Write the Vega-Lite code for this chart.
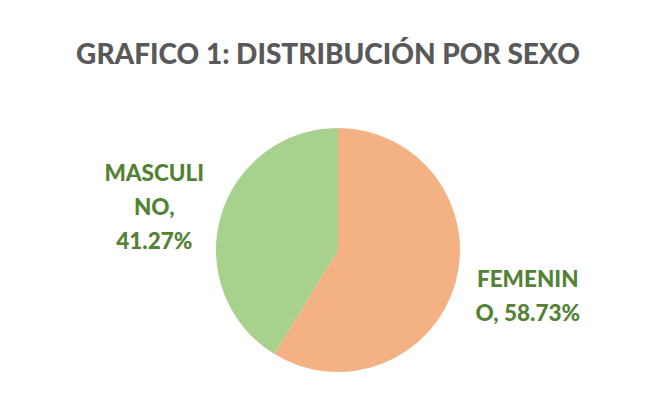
{
  "$schema": "https://vega.github.io/schema/vega-lite/v6.json",
  "autosize": "none",
  "width": 600,
  "height": 250,
  "padding": {"left": 38, "top": 125, "right": 16, "bottom": 42},
  "background": "white",
  "title": {
    "text": "GRAFICO 1: DISTRIBUCIÓN  POR SEXO",
    "font": "Lato",
    "fontSize": 28,
    "fontWeight": 900,
    "color": "#595959",
    "anchor": "middle",
    "offset": 55,
    "dx": -10
  },
  "data": {
    "values": [
      {"sexo": "FEMENINO", "pct": 58.73, "orden": 1, "etiqueta": "FEMENIN\nO, 58.73%"},
      {"sexo": "MASCULINO", "pct": 41.27, "orden": 2, "etiqueta": "MASCULI\nNO,\n41.27%"}
    ]
  },
  "encoding": {
    "theta": {"field": "pct", "type": "quantitative", "stack": true},
    "order": {"field": "orden", "type": "quantitative"}
  },
  "layer": [
    {
      "mark": {"type": "arc", "outerRadius": 122},
      "encoding": {
        "color": {
          "field": "sexo",
          "type": "nominal",
          "scale": {"domain": ["FEMENINO", "MASCULINO"], "range": ["#F4B183", "#A9D18E"]},
          "legend": null
        }
      }
    },
    {
      "mark": {
        "type": "text",
        "radius": 194,
        "dy": -23,
        "dx": 3,
        "font": "Lato",
        "fontSize": 22.5,
        "fontWeight": 900,
        "color": "#548235",
        "lineBreak": "\n",
        "lineHeight": 34,
        "align": "center",
        "baseline": "middle"
      },
      "encoding": {
        "text": {"field": "etiqueta", "type": "nominal"}
      }
    }
  ]
}
